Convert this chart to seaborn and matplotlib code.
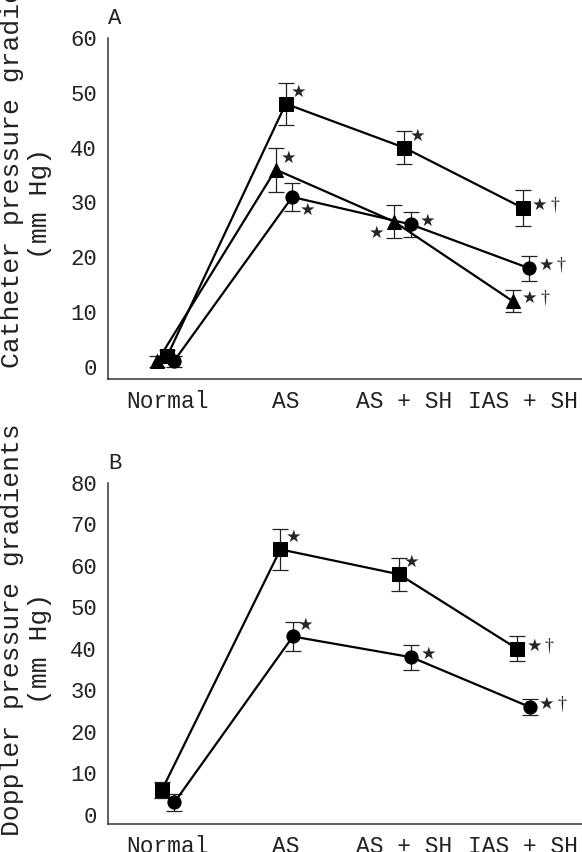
import matplotlib
matplotlib.use("Agg")
import matplotlib.pyplot as plt
import seaborn as sns
import pandas as pd

# categories on the x axis
categories = ["Normal", "AS", "AS + SH", "IAS + SH"]

# panel A: catheter pressure gradients (mm Hg), mean and error
cath_square = [2, 48, 40, 29]
cath_square_err = [1, 3.8, 3, 3.3]
cath_triangle = [1, 36, 26.5, 12]
cath_triangle_err = [1, 4, 3, 2]
cath_circle = [1, 31, 26, 18]
cath_circle_err = [1, 2.6, 2.3, 2.3]

# panel B: doppler pressure gradients (mm Hg)
dopp_square = [6, 64, 58, 40]
dopp_square_err = [2, 5, 4, 3]
dopp_circle = [3, 43, 38, 26]
dopp_circle_err = [2, 3.5, 3, 2]

# significance marks per point
marks_a = {"square": ["", "★", "★", "★†"],
           "triangle": ["", "★", "★", "★†"],
           "circle": ["", "★", "★", "★†"]}
marks_b = {"square": ["", "★", "★", "★†"],
           "circle": ["", "★", "★", "★†"]}

# where each mark sits relative to its point
place_a = {"square": ["", "ur", "ur", "r"],
           "triangle": ["", "ur", "dl", "r"],
           "circle": ["", "dr", "r", "r"]}
place_b = {"square": ["", "ur", "ur", "r"],
           "circle": ["", "ur", "r", "r"]}
offsets = {"ur": (13, 12), "dr": (15, -13), "dl": (-17, -11), "r": (17, 3)}

markers = {"square": "s", "triangle": "^", "circle": "o"}
dodge_a = {"square": 0.0, "triangle": -0.085, "circle": 0.055}
dodge_b = {"square": -0.045, "circle": 0.06}

mono = "Liberation Mono"


def build(series, dodge):
    rows = []
    for name, (vals, errs) in series.items():
        for i, cat in enumerate(categories):
            rows.append({"series": name, "category": cat,
                         "xpos": i + dodge[name], "mean": vals[i], "err": errs[i]})
    return pd.DataFrame(rows)


df_a = build({"square": (cath_square, cath_square_err),
              "triangle": (cath_triangle, cath_triangle_err),
              "circle": (cath_circle, cath_circle_err)}, dodge_a)
df_b = build({"square": (dopp_square, dopp_square_err),
              "circle": (dopp_circle, dopp_circle_err)}, dodge_b)


def draw_panel(ax, df, marks, place, ymax, letter):
    names = list(df["series"].unique())
    sns.lineplot(data=df, x="xpos", y="mean", hue="series", style="series",
                 markers={n: markers[n] for n in names}, dashes=False,
                 palette={n: "black" for n in names}, markersize=9.5,
                 markeredgecolor="black", linewidth=1.6, sort=False,
                 legend=False, ax=ax, zorder=3)
    for name, sub in df.groupby("series", sort=False):
        ax.errorbar(sub["xpos"], sub["mean"], yerr=sub["err"], fmt="none",
                    ecolor="#222222", elinewidth=0.9, capsize=6, capthick=0.9,
                    zorder=2)
        for x, y, m, p in zip(sub["xpos"], sub["mean"], marks[name], place[name]):
            if not m:
                continue
            dx, dy = offsets[p]
            ax.annotate("★", (x, y), xytext=(dx, dy), textcoords="offset pixels",
                        ha="center", va="center", fontsize=12.5,
                        family="DejaVu Sans")
            if "†" in m:
                ax.annotate("†", (x, y), xytext=(dx + 15, dy), textcoords="offset pixels",
                            ha="center", va="center", fontsize=13,
                            family="Liberation Serif")

    ax.set_xlim(-0.5, 3.5)
    ax.set_ylim(-2.2, ymax)
    ax.set_xticks(range(len(categories)))
    ax.set_xticklabels(categories)
    ax.set_yticks(range(0, ymax + 1, 10))
    ax.set_xlabel("")
    ax.set_ylabel("")
    for s in ["top", "right"]:
        ax.spines[s].set_visible(False)
    for s in ["left", "bottom"]:
        ax.spines[s].set_linewidth(1.1)
        ax.spines[s].set_color("#333333")
    ax.tick_params(axis="y", direction="in", length=12.5, width=1, color="#333333",
                   pad=8, labelsize=16, labelcolor="#222222")
    ax.tick_params(axis="x", direction="in", length=13.5, width=1, color="#333333",
                   pad=8, labelsize=16.5, labelcolor="#222222")
    for lab in ax.get_xticklabels() + ax.get_yticklabels():
        lab.set_family(mono)
    ax.text(0.0, 1.025, letter, transform=ax.transAxes, ha="left", va="bottom",
            fontsize=16, family=mono, color="#222222")


sns.set_style("white")
plt.rcParams["font.family"] = [mono, "DejaVu Sans"]

fig = plt.figure(figsize=(5.82, 8.52), dpi=100)
W, H = 582, 852
ax_a = fig.add_axes([108 / W, 1 - 379 / H, 1 - 108 / W, (379 - 38) / H])
ax_b = fig.add_axes([108 / W, 1 - 824 / H, 1 - 108 / W, (824 - 483) / H])

draw_panel(ax_a, df_a, marks_a, place_a, 60, "A")
draw_panel(ax_b, df_b, marks_b, place_b, 80, "B")

# y axis labels, two lines each
fig.text(12 / W, 1 - 368 / H, "Catheter pressure gradients", rotation=90,
         ha="center", va="bottom", fontsize=19, family=mono, color="#222222")
fig.text(40 / W, 1 - 203 / H, "(mm Hg)", rotation=90,
         ha="center", va="center", fontsize=19, family=mono, color="#222222")
fig.text(12 / W, 1 - 836 / H, "Doppler pressure gradients", rotation=90,
         ha="center", va="bottom", fontsize=19, family=mono, color="#222222")
fig.text(40 / W, 1 - 648 / H, "(mm Hg)", rotation=90,
         ha="center", va="center", fontsize=19, family=mono, color="#222222")

fig.savefig("out.png", dpi=100)
